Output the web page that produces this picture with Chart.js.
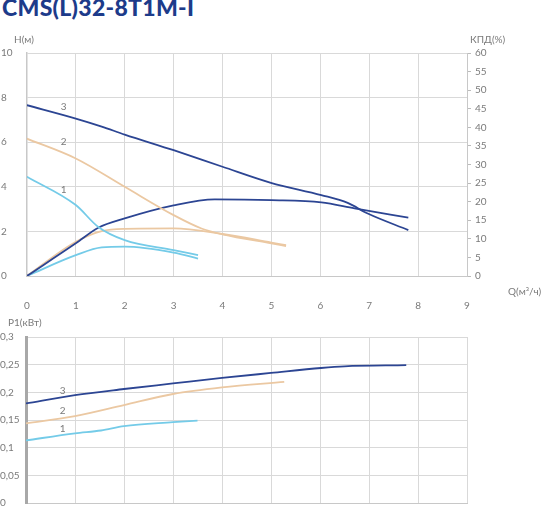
<!DOCTYPE html>
<html><head><meta charset="utf-8">
<script src="https://cdn.jsdelivr.net/npm/chart.js@4"></script>
<style>
body{margin:0;background:#fff;width:550px;height:513px;position:relative;overflow:hidden;font-family:Lato,"Open Sans",sans-serif}
h1{position:absolute;left:2px;top:-7px;margin:0;font:900 23px Lato,"Open Sans",sans-serif;color:#1d3b8a;letter-spacing:0.3px}
#top{position:absolute;left:0;top:30px}
#bot{position:absolute;left:0;top:315px}
</style></head><body>
<h1>CMS(L)32-8T1M-I</h1>
<canvas id="top" width="550" height="285"></canvas>
<canvas id="bot" width="550" height="198"></canvas>
<script>
// colours of the three speed curves
const C1 = '#74cbe8', C2 = '#ebc8a2', C3 = '#2c4593';

// head H(m) vs Q
const q3h = [0, 1, 1.53, 2, 3, 4, 4.99, 6.02, 6.56, 6.97, 7.8];
const h3  = [7.66, 7.06, 6.7, 6.34, 5.64, 4.9, 4.18, 3.63, 3.28, 2.8, 2.06];
const q2h = [0, 1, 2, 3, 3.57, 4, 5, 5.3];
const h2  = [6.16, 5.27, 4.0, 2.73, 2.13, 1.87, 1.46, 1.34];
const q1h = [0, 1, 1.46, 2, 3, 3.5];
const h1  = [4.45, 3.18, 2.2, 1.61, 1.16, 0.94];

// efficiency КПД(%) vs Q
const q3e = [0, 1, 1.46, 2, 3, 3.84, 5, 6.02, 6.7, 7.8];
const e3  = [0, 8.8, 13, 15.5, 19, 20.6, 20.4, 19.8, 18.2, 15.7];
const q2e = [0, 1, 1.53, 2, 3, 4, 5, 5.3];
const e2  = [0, 9.2, 12.1, 12.7, 12.8, 11.3, 9.0, 8.3];
const q1e = [0, 1, 1.53, 2, 3, 3.5];
const e1  = [0, 5.6, 7.7, 7.9, 6.3, 4.7];

// power P1(kW) vs Q
const q3p = [0, 1, 2, 3, 4, 5, 6.02, 6.5, 7.76];
const p3  = [0.18, 0.195, 0.206, 0.216, 0.226, 0.235, 0.244, 0.247, 0.249];
const q2p = [0, 1, 2, 3, 4, 5.27];
const p2  = [0.144, 0.157, 0.177, 0.197, 0.209, 0.219];
const q1p = [0, 1, 1.53, 2, 3, 3.5];
const p1  = [0.113, 0.126, 0.131, 0.139, 0.146, 0.149];

const pLabels = {0.3: '0,3', 0.25: '0,25', 0.2: '0,2', 0.15: '0,15', 0.1: '0,1', 0.05: '0,05', 0: '0'};

const grey = '#7a7a7a', gridC = '#d9d9d9';
const tickFont = { family: 'Lato', size: 10 };

function pts(xs, ys) { return xs.map((x, i) => ({ x, y: ys[i] })); }
function line(xs, ys, color, axis) {
  return { data: pts(xs, ys), borderColor: color, borderWidth: 1.8, pointRadius: 0,
           cubicInterpolationMode: 'monotone', fill: false, yAxisID: axis || 'y' };
}
function fixW(w) { return s => { s.width = w; }; }
function fixH(h) { return s => { s.height = h; }; }

// text labels drawn at data positions
function labelsPlugin(items, extra) {
  return {
    id: 'lbl',
    afterDraw(c) {
      const ctx = c.ctx;
      ctx.save();
      ctx.fillStyle = grey;
      ctx.font = '10px Lato';
      ctx.textAlign = 'center';
      ctx.textBaseline = 'middle';
      items.forEach(([t, x, y]) => ctx.fillText(t, c.scales.x.getPixelForValue(x), c.scales.y.getPixelForValue(y)));
      ctx.textAlign = 'left';
      extra.forEach(([t, x, y]) => ctx.fillText(t, x, y));
      ctx.restore();
    }
  };
}

new Chart(document.getElementById('top'), {
  type: 'line',
  data: { datasets: [
    line(q3h, h3, C3), line(q2h, h2, C2), line(q1h, h1, C1),
    line(q3e, e3, C3, 'y2'), line(q2e, e2, C2, 'y2'), line(q1e, e1, C1, 'y2')
  ] },
  options: {
    responsive: false, animation: false,
    layout: { padding: { top: 23, bottom: 0, left: 0, right: 0 } },
    plugins: { legend: { display: false }, tooltip: { enabled: false } },
    scales: {
      x: { type: 'linear', min: 0, max: 9, afterFit: fixH(39),
           ticks: { stepSize: 1, color: grey, font: tickFont, padding: 24 },
           grid: { color: gridC, drawTicks: false }, border: { color: '#c8c8c8' } },
      y: { min: 0, max: 10, afterFit: fixW(26),
           ticks: { stepSize: 2, color: grey, font: tickFont, crossAlign: 'far', padding: 4 },
           grid: { color: gridC, drawTicks: false }, border: { color: '#c8c8c8', width: 1.5 } },
      y2: { position: 'right', min: 0, max: 60, afterFit: fixW(83),
            ticks: { stepSize: 5, color: grey, font: tickFont, padding: 4 },
            grid: { drawOnChartArea: false, tickLength: 4, color: '#bbb' }, border: { color: '#c8c8c8' } }
    }
  },
  plugins: [labelsPlugin([['3', 0.75, 7.6], ['2', 0.75, 6.0], ['1', 0.75, 3.85]],
                         [['H(м)', 14, 10], ['КПД(%)', 470, 10], ['Q(м³/ч)', 508, 262]])]
});

new Chart(document.getElementById('bot'), {
  type: 'line',
  data: { datasets: [line(q3p, p3, C3), line(q2p, p2, C2), line(q1p, p1, C1)] },
  options: {
    responsive: false, animation: false,
    layout: { padding: { top: 22, bottom: 0, left: 0, right: 0 } },
    plugins: { legend: { display: false }, tooltip: { enabled: false } },
    scales: {
      x: { type: 'linear', min: 0, max: 9, afterFit: fixH(0),
           ticks: { stepSize: 1, display: false },
           grid: { color: gridC, drawTicks: false }, border: { color: '#c8c8c8' } },
      y: { min: 0, max: 0.3, afterFit: fixW(26),
           ticks: { stepSize: 0.05, color: grey, font: tickFont, crossAlign: 'far', padding: 4,
                    callback: v => pLabels[Math.round(v * 100) / 100] },
           grid: { color: gridC, drawTicks: false }, border: { color: '#a8a8a8', width: 3 } },
      yR: { position: 'right', min: 0, max: 0.3, afterFit: fixW(83),
            ticks: { display: false }, grid: { display: false }, border: { display: false } }
    }
  },
  plugins: [labelsPlugin([['3', 0.75, 0.203], ['2', 0.75, 0.167], ['1', 0.75, 0.135]],
                         [['P1(кВт)', 8, 8]])]
});
</script>
</body></html>
